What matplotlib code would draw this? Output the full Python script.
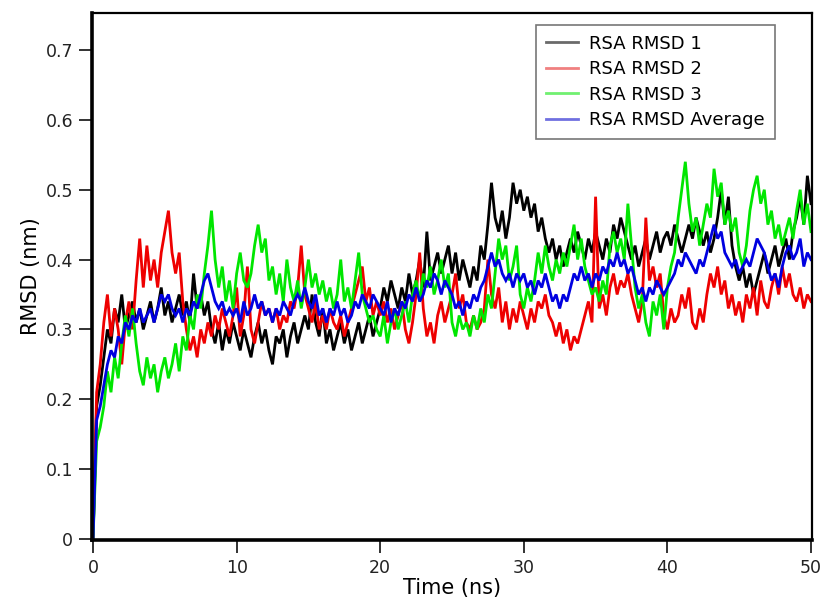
import numpy as np
import matplotlib
matplotlib.use("Agg")
import matplotlib.pyplot as plt
from matplotlib.lines import Line2D
from matplotlib.ticker import FuncFormatter

# Time axis: 0 to 50 ns, sampled every 0.25 ns
time_ns = np.arange(0, 201) * 0.25

rmsd_1 = [
    0.00, 0.19, 0.22, 0.26, 0.30, 0.28, 0.33, 0.31, 0.35, 0.30, 0.32, 0.34, 0.31, 0.33, 0.30, 0.32, 0.34, 0.31, 0.33, 0.36,
    0.32, 0.34, 0.31, 0.33, 0.35, 0.32, 0.34, 0.31, 0.38, 0.33, 0.35, 0.32, 0.34, 0.30, 0.28, 0.31, 0.27, 0.30, 0.28, 0.31,
    0.29, 0.27, 0.30, 0.28, 0.26, 0.29, 0.31, 0.28, 0.30, 0.27, 0.25, 0.29, 0.28, 0.30, 0.26, 0.29, 0.31, 0.28, 0.30, 0.32,
    0.30, 0.35, 0.31, 0.29, 0.33, 0.28, 0.30, 0.27, 0.29, 0.31, 0.28, 0.30, 0.27, 0.29, 0.31, 0.28, 0.30, 0.32, 0.29, 0.31,
    0.33, 0.36, 0.34, 0.37, 0.35, 0.33, 0.36, 0.34, 0.38, 0.35, 0.37, 0.40, 0.36, 0.44, 0.37, 0.39, 0.41, 0.38, 0.40, 0.42,
    0.38, 0.41, 0.37, 0.40, 0.38, 0.36, 0.39, 0.37, 0.42, 0.40, 0.45, 0.51, 0.46, 0.44, 0.47, 0.43, 0.46, 0.51, 0.48, 0.50,
    0.47, 0.49, 0.46, 0.48, 0.44, 0.46, 0.43, 0.41, 0.43, 0.40, 0.42, 0.39, 0.41, 0.43, 0.41, 0.44, 0.42, 0.40, 0.43, 0.41,
    0.44, 0.42, 0.40, 0.43, 0.41, 0.45, 0.43, 0.46, 0.44, 0.42, 0.40, 0.42, 0.39, 0.41, 0.43, 0.40, 0.42, 0.44, 0.41, 0.43,
    0.44, 0.42, 0.45, 0.43, 0.41, 0.43, 0.45, 0.43, 0.46, 0.44, 0.42, 0.44, 0.41, 0.43, 0.46, 0.50, 0.45, 0.49, 0.42, 0.39,
    0.37, 0.39, 0.36, 0.38, 0.35, 0.37, 0.39, 0.41, 0.38, 0.40, 0.42, 0.39, 0.41, 0.43, 0.40, 0.44, 0.46, 0.49, 0.45, 0.52,
    0.48,
]

rmsd_2 = [
    0.00, 0.21, 0.25, 0.31, 0.35, 0.29, 0.33, 0.30, 0.25, 0.31, 0.34, 0.30, 0.37, 0.43, 0.36, 0.42, 0.37, 0.40, 0.36, 0.41,
    0.44, 0.47, 0.41, 0.38, 0.41, 0.34, 0.30, 0.27, 0.29, 0.26, 0.30, 0.28, 0.31, 0.29, 0.32, 0.30, 0.33, 0.31, 0.29, 0.32,
    0.36, 0.29, 0.32, 0.39, 0.30, 0.28, 0.31, 0.34, 0.32, 0.33, 0.31, 0.33, 0.30, 0.32, 0.31, 0.34, 0.33, 0.36, 0.42, 0.35,
    0.33, 0.31, 0.34, 0.30, 0.32, 0.30, 0.33, 0.31, 0.30, 0.32, 0.29, 0.31, 0.33, 0.35, 0.37, 0.39, 0.34, 0.36, 0.32, 0.34,
    0.32, 0.34, 0.31, 0.33, 0.30, 0.32, 0.34, 0.30, 0.28, 0.31, 0.35, 0.41, 0.33, 0.29, 0.31, 0.28, 0.32, 0.34, 0.31, 0.33,
    0.35, 0.38, 0.33, 0.35, 0.31, 0.30, 0.32, 0.30, 0.31, 0.33, 0.40, 0.35, 0.33, 0.36, 0.31, 0.34, 0.30, 0.33, 0.31, 0.34,
    0.32, 0.30, 0.33, 0.31, 0.34, 0.33, 0.35, 0.32, 0.31, 0.29, 0.31, 0.28, 0.30, 0.27, 0.29, 0.28, 0.30, 0.32, 0.34, 0.31,
    0.49, 0.33, 0.35, 0.32, 0.36, 0.38, 0.35, 0.37, 0.36, 0.38, 0.35, 0.33, 0.31, 0.34, 0.46, 0.37, 0.39, 0.36, 0.38, 0.32,
    0.30, 0.33, 0.31, 0.32, 0.35, 0.33, 0.36, 0.31, 0.30, 0.33, 0.31, 0.35, 0.38, 0.36, 0.39, 0.35, 0.37, 0.33, 0.35, 0.32,
    0.34, 0.31, 0.35, 0.33, 0.36, 0.32, 0.37, 0.34, 0.33, 0.36, 0.38, 0.35, 0.39, 0.36, 0.38, 0.35, 0.34, 0.36, 0.33, 0.35,
    0.34,
]

rmsd_3 = [
    0.00, 0.14, 0.16, 0.19, 0.24, 0.21, 0.26, 0.23, 0.28, 0.32, 0.29, 0.33, 0.28, 0.24, 0.22, 0.26, 0.23, 0.25, 0.21, 0.24,
    0.26, 0.23, 0.25, 0.28, 0.24, 0.29, 0.27, 0.32, 0.30, 0.35, 0.33, 0.38, 0.42, 0.47, 0.40, 0.36, 0.39, 0.34, 0.37, 0.33,
    0.38, 0.41, 0.37, 0.36, 0.38, 0.42, 0.45, 0.41, 0.43, 0.37, 0.39, 0.35, 0.38, 0.34, 0.40, 0.36, 0.34, 0.37, 0.33, 0.36,
    0.40, 0.36, 0.38, 0.35, 0.37, 0.34, 0.36, 0.33, 0.35, 0.40, 0.34, 0.36, 0.33, 0.37, 0.41, 0.35, 0.33, 0.31, 0.32, 0.30,
    0.29, 0.32, 0.28, 0.31, 0.33, 0.30, 0.32, 0.34, 0.31, 0.35, 0.37, 0.34, 0.38, 0.36, 0.39, 0.35, 0.37, 0.40, 0.36, 0.38,
    0.31, 0.29, 0.32, 0.30, 0.31, 0.29, 0.32, 0.30, 0.33, 0.31, 0.35, 0.33, 0.38, 0.43, 0.40, 0.42, 0.37, 0.39, 0.42, 0.35,
    0.33, 0.36, 0.34, 0.37, 0.41, 0.38, 0.42, 0.39, 0.37, 0.40, 0.38, 0.41, 0.39, 0.42, 0.45, 0.40, 0.43, 0.39, 0.37, 0.35,
    0.36, 0.34, 0.37, 0.35, 0.42, 0.44, 0.41, 0.43, 0.40, 0.48, 0.42, 0.36, 0.33, 0.35, 0.31, 0.29, 0.34, 0.32, 0.35, 0.30,
    0.36, 0.39, 0.41, 0.46, 0.50, 0.54, 0.48, 0.44, 0.46, 0.42, 0.45, 0.48, 0.46, 0.53, 0.49, 0.51, 0.45, 0.47, 0.44, 0.46,
    0.41, 0.39, 0.42, 0.47, 0.50, 0.52, 0.48, 0.50, 0.45, 0.47, 0.43, 0.45, 0.42, 0.44, 0.46, 0.43, 0.47, 0.50, 0.45, 0.48,
    0.44,
]

rmsd_avg = [
    0.00, 0.17, 0.19, 0.22, 0.25, 0.27, 0.26, 0.29, 0.28, 0.31, 0.30, 0.32, 0.31, 0.33, 0.31, 0.32, 0.33, 0.31, 0.33, 0.35,
    0.34, 0.35, 0.33, 0.32, 0.33, 0.31, 0.33, 0.32, 0.34, 0.33, 0.35, 0.37, 0.38, 0.36, 0.34, 0.33, 0.34, 0.32, 0.33, 0.32,
    0.33, 0.31, 0.34, 0.32, 0.33, 0.35, 0.33, 0.34, 0.32, 0.33, 0.31, 0.33, 0.32, 0.34, 0.33, 0.32, 0.34, 0.35, 0.34, 0.36,
    0.34, 0.33, 0.35, 0.32, 0.33, 0.31, 0.33, 0.32, 0.34, 0.32, 0.33, 0.31, 0.32, 0.34, 0.33, 0.35, 0.34, 0.33, 0.35, 0.34,
    0.33, 0.32, 0.34, 0.31, 0.33, 0.32, 0.34, 0.33, 0.35, 0.34, 0.36, 0.34, 0.35, 0.37, 0.36, 0.38, 0.37, 0.35, 0.37, 0.36,
    0.35, 0.33, 0.34, 0.32, 0.34, 0.33, 0.35, 0.34, 0.36, 0.37, 0.39, 0.41, 0.39, 0.40, 0.38, 0.37, 0.38, 0.36, 0.38, 0.37,
    0.38, 0.36, 0.37, 0.35, 0.37, 0.36, 0.38, 0.36, 0.34, 0.35, 0.33, 0.35, 0.34, 0.36, 0.38, 0.37, 0.39, 0.37, 0.38, 0.36,
    0.38, 0.37, 0.39, 0.38, 0.40, 0.39, 0.41, 0.39, 0.40, 0.38, 0.39, 0.37, 0.35, 0.36, 0.34, 0.36, 0.35, 0.37, 0.36, 0.35,
    0.36, 0.37, 0.38, 0.40, 0.39, 0.41, 0.40, 0.39, 0.38, 0.40, 0.39, 0.41, 0.43, 0.45, 0.43, 0.44, 0.41, 0.40, 0.39, 0.40,
    0.38, 0.39, 0.40, 0.39, 0.41, 0.43, 0.42, 0.41, 0.39, 0.37, 0.38, 0.36, 0.39, 0.41, 0.42, 0.40, 0.41, 0.43, 0.39, 0.41,
    0.40,
]

series_labels = ["RSA RMSD 1", "RSA RMSD 2", "RSA RMSD 3", "RSA RMSD Average"]
series_colors = ["#000000", "#ee0000", "#00e600", "#0000e0"]
legend_colors = ["#6a6a6a", "#f08080", "#70f070", "#7070e0"]
x_ticks = [0, 10, 20, 30, 40, 50]
y_ticks = [0, 0.1, 0.2, 0.3, 0.4, 0.5, 0.6, 0.7]

plt.rcParams["font.family"] = ["DejaVu Sans"]

fig = plt.figure(figsize=(8.24, 6.12), dpi=100)
ax = fig.add_axes([0.1117, 0.1176, 0.8737, 0.8612])

for vals, col in zip([rmsd_1, rmsd_2, rmsd_3, rmsd_avg], series_colors):
    ax.plot(time_ns, vals, color=col, lw=2.0, solid_joinstyle="miter")

ax.set_xlim(-0.07, 50.07)
ax.set_ylim(-0.0015, 0.753)
ax.set_xticks(x_ticks)
ax.set_yticks(y_ticks)
ax.yaxis.set_major_formatter(FuncFormatter(lambda v, p: "0" if v == 0 else f"{v:.1f}"))
ax.tick_params(axis="both", direction="out", length=9.5, width=1.3,
               labelsize=12.5, colors="#222222", pad=4)
ax.tick_params(top=False, right=False)

for side in ["left", "bottom"]:
    ax.spines[side].set_linewidth(2.6)
for side in ["top", "right"]:
    ax.spines[side].set_linewidth(1.6)

ax.set_xlabel("Time (ns)", fontsize=15, labelpad=1)
ax.set_ylabel("RMSD (nm)", fontsize=15, labelpad=3)

handles = [Line2D([0], [0], color=c, lw=2.0) for c in legend_colors]
leg = ax.legend(handles, series_labels, loc="upper right",
                bbox_to_anchor=(0.948, 0.978), fontsize=13, frameon=True,
                fancybox=False, handlelength=1.8, handletextpad=0.6,
                labelspacing=0.42, borderpad=0.55, borderaxespad=0.0)
leg.get_frame().set_edgecolor("#555555")
leg.get_frame().set_linewidth(1.2)

fig.savefig("out.png", dpi=100)
